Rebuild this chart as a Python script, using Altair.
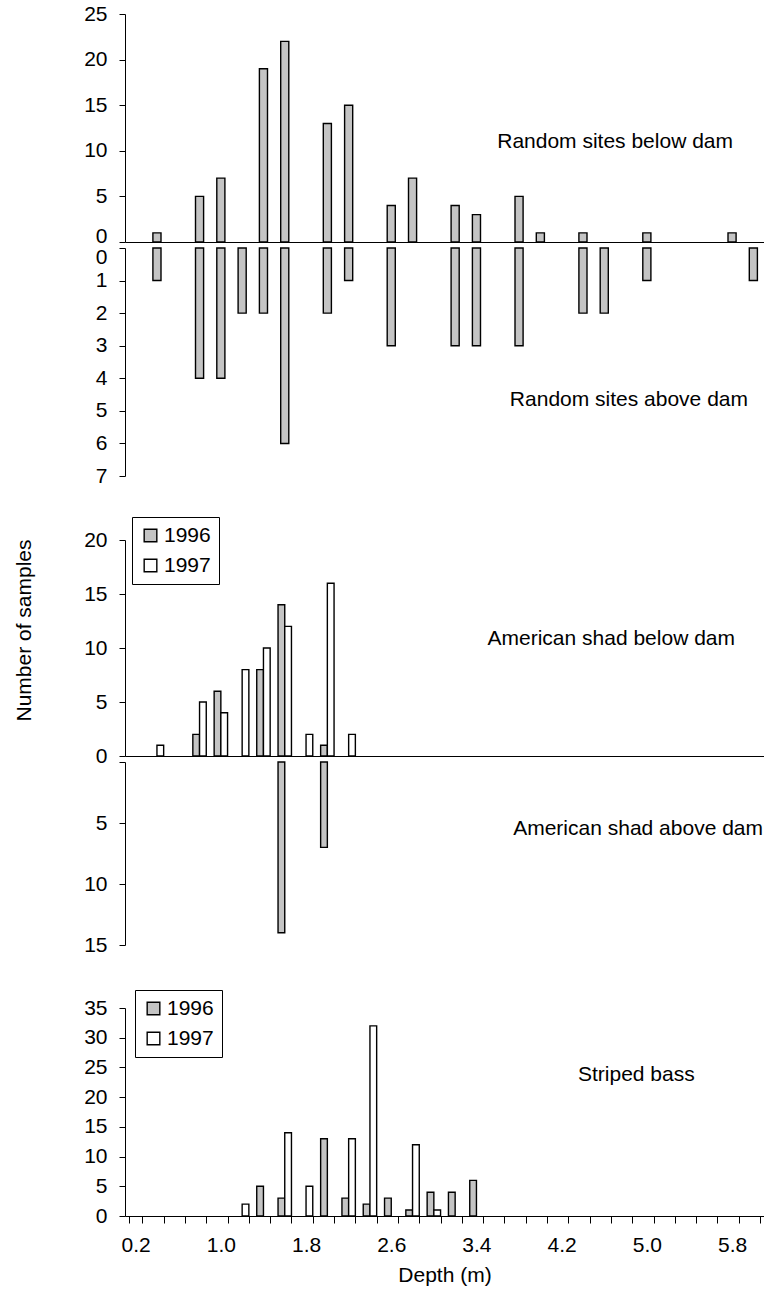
import altair as alt
import pandas as pd

# ---------------- data ----------------
depth_bins = ["0.2", "0.4", "0.6", "0.8", "1.0", "1.2", "1.4", "1.6", "1.8", "2.0",
              "2.2", "2.4", "2.6", "2.8", "3.0", "3.2", "3.4", "3.6", "3.8", "4.0",
              "4.2", "4.4", "4.6", "4.8", "5.0", "5.2", "5.4", "5.6", "5.8", "6.0"]
axis_labels = ["0.2", "1.0", "1.8", "2.6", "3.4", "4.2", "5.0", "5.8"]
years = ["1996", "1997"]

rand_below_depth = ["0.4", "0.8", "1.0", "1.4", "1.6", "2.0", "2.2", "2.6", "2.8",
                    "3.2", "3.4", "3.8", "4.0", "4.4", "5.0", "5.8"]
rand_below_n = [1, 5, 7, 19, 22, 13, 15, 4, 7, 4, 3, 5, 1, 1, 1, 1]

rand_above_depth = ["0.4", "0.8", "1.0", "1.2", "1.4", "1.6", "2.0", "2.2", "2.6",
                    "3.2", "3.4", "3.8", "4.4", "4.6", "5.0", "6.0"]
rand_above_n = [1, 4, 4, 2, 2, 6, 2, 1, 3, 3, 3, 3, 2, 2, 1, 1]

shad_below_1996_depth = ["0.8", "1.0", "1.4", "1.6", "2.0"]
shad_below_1996_n = [2, 6, 8, 14, 1]
shad_below_1997_depth = ["0.4", "0.8", "1.0", "1.2", "1.4", "1.6", "1.8", "2.0", "2.2"]
shad_below_1997_n = [1, 5, 4, 8, 10, 12, 2, 16, 2]

shad_above_1996_depth = ["1.6", "2.0"]
shad_above_1996_n = [14, 7]

bass_1996_depth = ["1.4", "1.6", "2.0", "2.2", "2.4", "2.6", "2.8", "3.0", "3.2", "3.4"]
bass_1996_n = [5, 3, 13, 3, 2, 3, 1, 4, 4, 6]
bass_1997_depth = ["1.2", "1.6", "1.8", "2.2", "2.4", "2.8", "3.0"]
bass_1997_n = [2, 14, 5, 13, 32, 12, 1]

# ---------------- tables ----------------
rb = pd.DataFrame({"depth": rand_below_depth, "n": rand_below_n})
ra = pd.DataFrame({"depth": rand_above_depth, "n": rand_above_n})
sb = pd.concat([
    pd.DataFrame({"depth": shad_below_1996_depth, "n": shad_below_1996_n, "year": "1996"}),
    pd.DataFrame({"depth": shad_below_1997_depth, "n": shad_below_1997_n, "year": "1997"}),
])
sa = pd.DataFrame({"depth": shad_above_1996_depth, "n": shad_above_1996_n, "year": "1996"})
bs = pd.concat([
    pd.DataFrame({"depth": bass_1996_depth, "n": bass_1996_n, "year": "1996"}),
    pd.DataFrame({"depth": bass_1997_depth, "n": bass_1997_n, "year": "1997"}),
])

# ---------------- style ----------------
W = 639
FONT = "Liberation Sans"
FS = 21
GRAY = "#c4c4c4"

def yaxis(values, label_expr=None, **kw):
    args = dict(values=values, title=None, grid=False, tickSize=6, labelPadding=12,
                domainColor="black", tickColor="black", domainWidth=1, tickWidth=1,
                labelFontSize=FS, labelFont=FONT, labelColor="black")
    if label_expr:
        args["labelExpr"] = label_expr
    args.update(kw)
    return alt.Axis(**args)

single_x_scale = alt.Scale(domain=depth_bins, paddingInner=0.62, paddingOuter=0.31)
pair_x_scale = alt.Scale(domain=depth_bins, paddingInner=0.37, paddingOuter=0.185)
off_scale = alt.Scale(domain=years, paddingInner=0, paddingOuter=0)
fill_scale = alt.Scale(domain=years, range=[GRAY, "white"])

zero_line_axis = alt.Axis(labels=False, ticks=False, title=None, domainColor="black",
                          domainWidth=1.2, grid=False)

def label(text, x, y, align="right"):
    return alt.Chart(pd.DataFrame({"t": [text]})).mark_text(
        font=FONT, fontSize=FS, align=align, baseline="middle", color="black"
    ).encode(text="t:N", x=alt.value(x), y=alt.value(y))

def legend(lx, ly):
    return alt.Legend(orient="none", legendX=lx, legendY=ly, title=None,
                      direction="vertical", strokeColor="black", fillColor="white",
                      padding=8, rowPadding=8, symbolType="square", symbolSize=160,
                      symbolStrokeColor="black", symbolStrokeWidth=1.4,
                      labelFont=FONT, labelFontSize=FS, labelOffset=3, labelColor="black")

def spacer(h):
    return alt.Chart(pd.DataFrame({"a": [0]})).mark_point(opacity=0).encode(
        x=alt.X("a:Q", axis=None), y=alt.Y("a:Q", axis=None)
    ).properties(width=W, height=h)

def zero_shift(px):
    return {"condition": {"test": "datum.value == 0", "value": px}, "value": 0}

bar_style = dict(stroke="black", strokeWidth=1.4)

# top: random sites below dam
tu_bars = alt.Chart(rb).mark_bar(fill=GRAY, **bar_style).encode(
    x=alt.X("depth:N", scale=single_x_scale, axis=zero_line_axis),
    y=alt.Y("n:Q", scale=alt.Scale(domain=[0, 25], nice=False),
            axis=yaxis([0, 5, 10, 15, 20, 25], labelOffset=zero_shift(-6))),
)
top_upper = alt.layer(tu_bars, label("Random sites below dam", 608, 128)).properties(width=W, height=228)

# top: random sites above dam
tl_bars = alt.Chart(ra).mark_bar(fill=GRAY, **bar_style).encode(
    x=alt.X("depth:N", scale=single_x_scale, axis=None),
    y=alt.Y("n:Q", scale=alt.Scale(domain=[0, 7], reverse=True, nice=False),
            axis=yaxis([0, 1, 2, 3, 4, 5, 6, 7], labelOffset=zero_shift(9))),
)
top_lower = alt.layer(tl_bars, label("Random sites above dam", 623, 152)).properties(width=W, height=228)

# middle: American shad below dam
mu_bars = alt.Chart(sb).mark_bar(**bar_style).encode(
    x=alt.X("depth:N", scale=pair_x_scale, axis=zero_line_axis),
    xOffset=alt.XOffset("year:N", scale=off_scale),
    y=alt.Y("n:Q", scale=alt.Scale(domain=[0, 20], nice=False),
            axis=yaxis([0, 5, 10, 15, 20], title="Number of samples", titleX=-101, titleY=90,
                       titleAngle=-90, titleAlign="center", titleBaseline="middle",
                       titleFont=FONT, titleFontSize=FS, titleFontWeight="normal",
                       titleColor="black")),
    fill=alt.Fill("year:N", scale=fill_scale, legend=legend(7, -23)),
)
middle_upper = alt.layer(mu_bars, label("American shad below dam", 610, 99)).properties(width=W, height=216)

# middle: American shad above dam
ml_bars = alt.Chart(sa).mark_bar(**bar_style).encode(
    x=alt.X("depth:N", scale=pair_x_scale, axis=None),
    xOffset=alt.XOffset("year:N", scale=off_scale),
    y=alt.Y("n:Q", scale=alt.Scale(domain=[0, 15], reverse=True, nice=False),
            axis=yaxis([0, 5, 10, 15], label_expr="datum.value == 0 ? '' : datum.label")),
    fill=alt.Fill("year:N", scale=fill_scale, legend=None),
)
middle_lower = alt.layer(ml_bars, label("American shad above dam", 638, 67)).properties(width=W, height=183)

# bottom: striped bass
label_list = "[" + ",".join("'%s'" % v for v in axis_labels) + "]"
bb_bars = alt.Chart(bs).mark_bar(**bar_style).encode(
    x=alt.X("depth:N", scale=pair_x_scale,
            axis=alt.Axis(title="Depth (m)", labelAngle=0, tickBand="extent", tickSize=7,
                          labelPadding=11, domainColor="black", tickColor="black",
                          labelFont=FONT, labelFontSize=FS, labelColor="black",
                          labelExpr="indexof(%s, datum.label) >= 0 ? datum.label : ''" % label_list,
                          titleFont=FONT, titleFontSize=FS, titleFontWeight="normal",
                          titleColor="black", titlePadding=9, grid=False)),
    xOffset=alt.XOffset("year:N", scale=off_scale),
    y=alt.Y("n:Q", scale=alt.Scale(domain=[0, 35], nice=False),
            axis=yaxis([0, 5, 10, 15, 20, 25, 30, 35])),
    fill=alt.Fill("year:N", scale=fill_scale, legend=legend(10, -18)),
)
bottom = alt.layer(bb_bars, label("Striped bass", 453, 67, align="left")).properties(width=W, height=208)

chart = alt.vconcat(
    top_upper, top_lower, spacer(52), middle_upper, middle_lower, spacer(51), bottom,
    spacing=6, bounds="flush"
).resolve_legend(fill="independent").resolve_scale(
    fill="independent", x="independent", y="independent"
).properties(
    padding={"left": 12, "top": 3, "right": 0, "bottom": 2}
).configure(
    background="white", view=alt.ViewConfig(stroke=None)
).configure_axis(grid=False)

chart.save("out.html", embed_options={"renderer": "svg", "actions": False})
